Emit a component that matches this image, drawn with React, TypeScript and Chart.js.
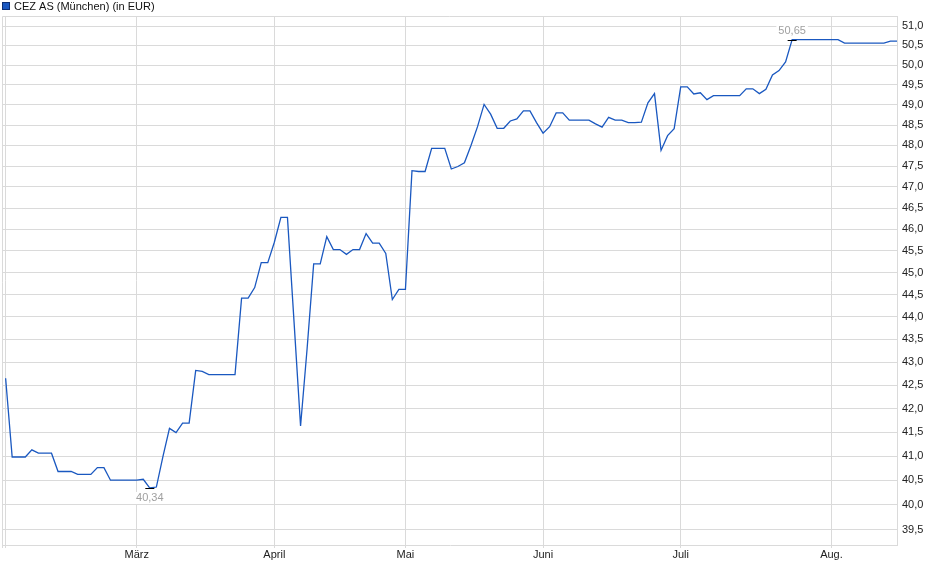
import { useEffect, useRef } from "react";
import Chart from "chart.js/auto";

const seriesName = "CEZ AS (München) (in EUR)";

// daily closes, Feb 3 to Aug 15 (trading days)
const prices = [
  42.65, 40.98, 40.98, 40.98, 41.13, 41.06, 41.06, 41.06, 40.68, 40.68,
  40.68, 40.62, 40.62, 40.62, 40.76, 40.76, 40.5, 40.5, 40.5, 40.5,
  40.5, 40.52, 40.34, 40.36, 40.99, 41.58, 41.49, 41.69, 41.69, 42.82,
  42.8, 42.73, 42.73, 42.73, 42.73, 42.73, 44.42, 44.42, 44.66, 45.23,
  45.23, 45.7, 46.28, 46.28, 43.9, 41.63, 43.3, 45.2, 45.2, 45.83,
  45.53, 45.53, 45.42, 45.53, 45.53, 45.9, 45.68, 45.68, 45.44, 44.39,
  44.62, 44.62, 47.39, 47.37, 47.37, 47.93, 47.93, 47.93, 47.43, 47.49,
  47.58, 48.0, 48.46, 49.01, 48.77, 48.42, 48.42, 48.6, 48.65, 48.85,
  48.85, 48.56, 48.3, 48.46, 48.8, 48.8, 48.62, 48.62, 48.62, 48.62,
  48.53, 48.45, 48.69, 48.62, 48.62, 48.56, 48.56, 48.57, 49.05, 49.28,
  47.88, 48.24, 48.41, 49.45, 49.45, 49.27, 49.3, 49.13, 49.23, 49.23,
  49.23, 49.23, 49.23, 49.4, 49.4, 49.28, 49.39, 49.75, 49.86, 50.08,
  50.65, 50.65, 50.65, 50.65, 50.65, 50.65, 50.65, 50.65, 50.56, 50.56,
  50.56, 50.56, 50.56, 50.56, 50.56, 50.61, 50.61,
];

const monthLabels = ["", "März", "April", "Mai", "Juni", "Juli", "Aug."];
const monthStarts = [0, 20, 41, 61, 82, 103, 126];

const yTicks = [
  39.5, 40.0, 40.5, 41.0, 41.5, 42.0, 42.5, 43.0, 43.5, 44.0, 44.5, 45.0,
  45.5, 46.0, 46.5, 47.0, 47.5, 48.0, 48.5, 49.0, 49.5, 50.0, 50.5, 51.0,
];

const lineColor = "#1a58c0";
const gridColor = "#dadada";
const font = { family: "'Liberation Sans', Arial, sans-serif", size: 11 };

const fmt = (v: number) => v.toFixed(2).replace(".", ",");

const framePlugin = {
  id: "frame",
  beforeDatasetsDraw(chart: any) {
    const { ctx, chartArea: a } = chart;
    ctx.save();
    ctx.strokeStyle = gridColor;
    ctx.lineWidth = 1;
    ctx.beginPath();
    ctx.moveTo(a.left - 0.5, a.bottom + 3);
    ctx.lineTo(a.left - 0.5, a.top + 0.5);
    ctx.lineTo(a.right, a.top + 0.5);
    ctx.stroke();
    ctx.restore();
  },
};

const extremesPlugin = {
  id: "extremes",
  afterDatasetsDraw(chart: any) {
    const { ctx } = chart;
    const xs = chart.scales.x;
    const ys = chart.scales.y;
    const lo = prices.indexOf(Math.min(...prices));
    const hi = prices.indexOf(Math.max(...prices));
    ctx.save();
    ctx.font = `${font.size}px ${font.family}`;
    ctx.textAlign = "center";
    ctx.textBaseline = "middle";
    const mark = (i: number, dy: number) => {
      const x = xs.getPixelForValue(i);
      const y = ys.getPixelForValue(prices[i]);
      ctx.strokeStyle = "#000";
      ctx.lineWidth = 1;
      ctx.beginPath();
      ctx.moveTo(x - 4.5, Math.round(y) + 0.5);
      ctx.lineTo(x + 4.5, Math.round(y) + 0.5);
      ctx.stroke();
      const label = fmt(prices[i]);
      const w = ctx.measureText(label).width;
      ctx.fillStyle = "#fff";
      ctx.fillRect(x - w / 2 - 2, y + dy - 6, w + 4, 12);
      ctx.fillStyle = "#a0a0a0";
      ctx.fillText(label, x, y + dy);
    };
    mark(lo, 10);
    mark(hi, -9);
    ctx.restore();
  },
};

const legendPlugin = {
  id: "legendBox",
  afterDraw(chart: any) {
    const { ctx } = chart;
    ctx.save();
    ctx.fillStyle = lineColor;
    ctx.fillRect(2, 2, 8, 8);
    ctx.strokeStyle = "#0d2f73";
    ctx.lineWidth = 1;
    ctx.strokeRect(2.5, 2.5, 7, 7);
    ctx.font = `${font.size}px ${font.family}`;
    ctx.fillStyle = "#111";
    ctx.textAlign = "left";
    ctx.textBaseline = "middle";
    ctx.fillText(seriesName, 14, 6.5);
    ctx.restore();
  },
};

export default function App() {
  const canvasRef = useRef<HTMLCanvasElement>(null);
  const chartRef = useRef<Chart | null>(null);

  useEffect(() => {
    document.body.style.margin = "0";
    if (!canvasRef.current) return;
    if (chartRef.current) chartRef.current.destroy();

    chartRef.current = new Chart(canvasRef.current, {
      type: "line",
      data: {
        datasets: [
          {
            label: seriesName,
            data: prices.map((v, i) => ({ x: i, y: v })),
            borderColor: lineColor,
            borderWidth: 1.3,
            pointRadius: 0,
            tension: 0,
            fill: false,
          },
        ],
      },
      options: {
        animation: false,
        responsive: true,
        maintainAspectRatio: false,
        layout: { padding: { top: 16, left: 3, right: 0, bottom: 0 } },
        plugins: {
          legend: { display: false },
          tooltip: { enabled: false },
        },
        scales: {
          x: {
            type: "linear",
            min: -0.4,
            max: prices.length - 1,
            afterBuildTicks: (scale: any) => {
              scale.ticks = monthStarts.map((v) => ({ value: v }));
            },
            afterFit: (scale: any) => {
              scale.height = 34;
            },
            ticks: {
              autoSkip: false,
              maxRotation: 0,
              padding: 0,
              color: "#222",
              font,
              callback: (v: any) => monthLabels[monthStarts.indexOf(Number(v))] ?? "",
            },
            grid: { color: gridColor, tickLength: 3 },
            border: { color: gridColor },
          },
          y: {
            type: "logarithmic",
            position: "right",
            min: 39.19,
            max: 51.26,
            afterBuildTicks: (scale: any) => {
              scale.ticks = yTicks.map((v) => ({ value: v }));
            },
            afterFit: (scale: any) => {
              scale.width = 43;
            },
            ticks: {
              autoSkip: false,
              padding: 5,
              color: "#222",
              font,
              callback: (v: any) => Number(v).toFixed(1).replace(".", ","),
            },
            grid: { color: gridColor, drawTicks: false },
            border: { color: gridColor },
          },
        },
      },
      plugins: [framePlugin, extremesPlugin, legendPlugin],
    });

    return () => {
      if (chartRef.current) {
        chartRef.current.destroy();
        chartRef.current = null;
      }
    };
  }, []);

  return (
    <div style={{ position: "relative", width: 940, height: 579, background: "#fff" }}>
      <canvas ref={canvasRef} />
    </div>
  );
}
